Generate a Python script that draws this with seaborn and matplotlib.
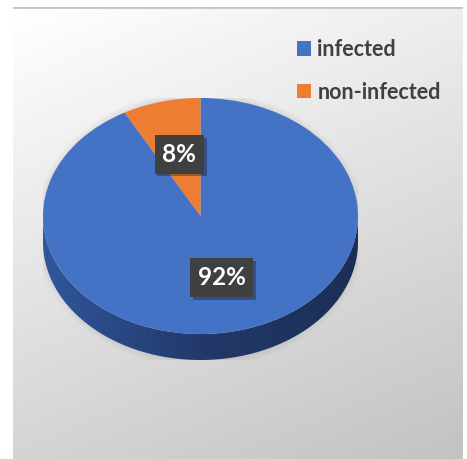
import numpy as np
import matplotlib
matplotlib.use("Agg")
import matplotlib.pyplot as plt
import seaborn as sns
from matplotlib.colors import LinearSegmentedColormap
from matplotlib.patches import Polygon, Ellipse
import matplotlib.patheffects as pe

# data
labels = ["infected", "non-infected"]
shares = [92, 8]
colors = ["#4472C4", "#ED7D31"]

sns.set_theme(style="white")
plt.rcParams["font.family"] = ["Lato", "DejaVu Sans"]

W, H = 467, 459
fig = plt.figure(figsize=(W / 100, H / 100), dpi=100)
fig.patch.set_facecolor("white")

# chart area with grey gradient
bg = fig.add_axes([13 / W, 0, 450 / W, 452 / H])
yy, xx = np.mgrid[0:1:200j, 0:1:200j]
g = 1 - 0.17 * yy - 0.07 * xx
bg.imshow(g, cmap="gray", vmin=0, vmax=1, aspect="auto",
          extent=[0, 1, 0, 1], origin="upper")
bg.axhline(1, color="#c4c4c4", lw=2)
bg.set_xlim(0, 1)
bg.set_ylim(0, 1)
bg.axis("off")

# pie axes: top face is an ellipse, plus a thick side
d = 0.22
ax = fig.add_axes([43 / W, (H - 360) / H, 315 / W, 262 / H])
ax.patch.set_alpha(0)

# soft shadow
for e, a in [(0.06, 0.05), (0.04, 0.06), (0.02, 0.08)]:
    ax.add_patch(Ellipse((0, -d / 2), 2 * (1 + e), 2 * (1 + e) + d,
                         facecolor="#808080", alpha=a, edgecolor="none", zorder=0))

# side of the 3d pie
t = np.linspace(np.pi, 2 * np.pi, 200)
top = np.c_[np.cos(t), np.sin(t)]
bot = np.c_[np.cos(t[::-1]), np.sin(t[::-1]) - d]
side = Polygon(np.vstack([top, bot]), closed=True, facecolor="none", edgecolor="none")
ax.add_patch(side)
side_cmap = LinearSegmentedColormap.from_list("side", ["#30569a", "#22396a", "#1b2f56"])
im = ax.imshow(np.linspace(0, 1, 100)[None, :], cmap=side_cmap, aspect="auto",
               extent=[-1, 1, -1 - d, 0], zorder=1)
im.set_clip_path(side)

wedges, texts, autotexts = ax.pie(
    shares, colors=colors, startangle=90, counterclock=False,
    autopct="%1.0f%%", pctdistance=0.54,
    wedgeprops=dict(linewidth=0, zorder=3),
    textprops=dict(color="white", fontsize=17.5, fontweight="bold"))

for at in autotexts:
    at.set_zorder(5)
    at.set_bbox(dict(boxstyle="square,pad=0.32", facecolor="#404040", edgecolor="none"))
    at.get_bbox_patch().set_path_effects(
        [pe.withSimplePatchShadow(offset=(2, -2), alpha=0.35)])

ax.set_aspect("auto")
ax.set_xlim(-1, 1)
ax.set_ylim(-1 - d, 1)
ax.axis("off")

fig.legend(wedges, labels, loc="upper left",
           bbox_to_anchor=(297 / W, 1 - 39 / H), frameon=False,
           prop=dict(weight="bold", size=15.5), labelcolor="#404040",
           handlelength=0.65, handleheight=0.65, handletextpad=0.3,
           labelspacing=1.0, borderaxespad=0, borderpad=0)

fig.savefig("out.png", dpi=100)
